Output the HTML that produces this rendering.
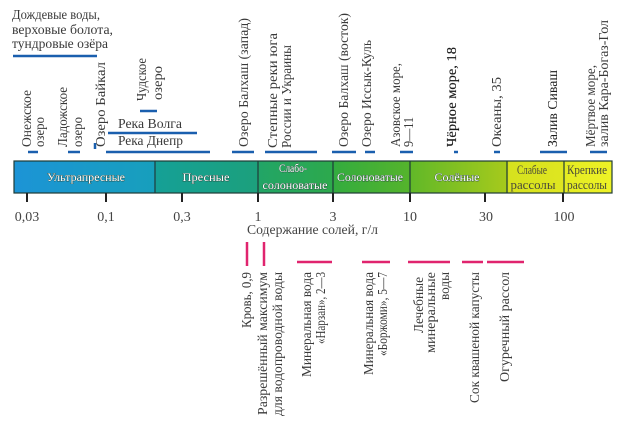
<!DOCTYPE html>
<html><head><meta charset="utf-8"><style>
html,body{margin:0;padding:0;background:#fff;}
svg{display:block;}
text{font-family:"Liberation Serif","DejaVu Serif",serif;}
</style></head><body>
<svg width="624" height="424" viewBox="0 0 624 424" xmlns="http://www.w3.org/2000/svg">
<defs>
<linearGradient id="bar" x1="14" y1="0" x2="612" y2="0" gradientUnits="userSpaceOnUse">
<stop offset="0" stop-color="#1c94d6"/>
<stop offset="0.236" stop-color="#179fbc"/>
<stop offset="0.238" stop-color="#15a096"/>
<stop offset="0.408" stop-color="#1ca07c"/>
<stop offset="0.411" stop-color="#22a566"/>
<stop offset="0.534" stop-color="#2da94c"/>
<stop offset="0.537" stop-color="#34ac3e"/>
<stop offset="0.662" stop-color="#55b42c"/>
<stop offset="0.665" stop-color="#62b828"/>
<stop offset="0.824" stop-color="#a6ca1c"/>
<stop offset="0.827" stop-color="#d6e21e"/>
<stop offset="0.918" stop-color="#dfe620"/>
<stop offset="0.921" stop-color="#e4ec22"/>
<stop offset="1" stop-color="#eef226"/>
</linearGradient>
</defs>

<!-- top-left horizontal text -->
<g fill="#3a3a3a" font-size="14">
<text x="12" y="19" textLength="88" lengthAdjust="spacingAndGlyphs">Дождевые воды,</text>
<text x="12" y="34" textLength="101" lengthAdjust="spacingAndGlyphs">верховые болота,</text>
<text x="12" y="48" textLength="96" lengthAdjust="spacingAndGlyphs">тундровые озёра</text>
<text x="118" y="128" textLength="64" lengthAdjust="spacingAndGlyphs">Река Волга</text>
<text x="118" y="145" textLength="65" lengthAdjust="spacingAndGlyphs">Река Днепр</text>
</g>

<!-- top vertical labels -->
<g fill="#3a3a3a" font-size="14">
<text transform="translate(31,147) rotate(-90)" textLength="57" lengthAdjust="spacingAndGlyphs">Онежское</text>
<text transform="translate(44,147) rotate(-90)" textLength="30" lengthAdjust="spacingAndGlyphs">озеро</text>
<text transform="translate(67,147) rotate(-90)" textLength="60" lengthAdjust="spacingAndGlyphs">Ладожское</text>
<text transform="translate(82,147) rotate(-90)" textLength="30" lengthAdjust="spacingAndGlyphs">озеро</text>
<text transform="translate(105,147) rotate(-90)" textLength="85" lengthAdjust="spacingAndGlyphs">Озеро Байкал</text>
<text transform="translate(146,101) rotate(-90)" textLength="43" lengthAdjust="spacingAndGlyphs">Чудское</text>
<text transform="translate(162,100) rotate(-90)" textLength="34" lengthAdjust="spacingAndGlyphs">озеро</text>
<text transform="translate(248,147) rotate(-90)" textLength="129" lengthAdjust="spacingAndGlyphs">Озеро Балхаш (запад)</text>
<text transform="translate(277,148) rotate(-90)" textLength="115" lengthAdjust="spacingAndGlyphs">Степные реки юга</text>
<text transform="translate(291,148) rotate(-90)" textLength="103" lengthAdjust="spacingAndGlyphs">России и Украины</text>
<text transform="translate(348,147) rotate(-90)" textLength="134" lengthAdjust="spacingAndGlyphs">Озеро Балхаш (восток)</text>
<text transform="translate(371,147) rotate(-90)" textLength="107" lengthAdjust="spacingAndGlyphs">Озеро Иссык-Куль</text>
<text transform="translate(400,147) rotate(-90)" textLength="84" lengthAdjust="spacingAndGlyphs">Азовское море,</text>
<text transform="translate(413,147) rotate(-90)" textLength="30" lengthAdjust="spacingAndGlyphs">9—11</text>
<text transform="translate(456,147) rotate(-90)" textLength="100" lengthAdjust="spacingAndGlyphs" fill="#1a1a1a" stroke="#1a1a1a" stroke-width="0.15">Чёрное море, 18</text>
<text transform="translate(501,147) rotate(-90)" textLength="70" lengthAdjust="spacingAndGlyphs">Океаны, 35</text>
<text transform="translate(557,147) rotate(-90)" textLength="77" lengthAdjust="spacingAndGlyphs" fill="#1a1a1a">Залив Сиваш</text>
<text transform="translate(595,147) rotate(-90)" textLength="82" lengthAdjust="spacingAndGlyphs">Мёртвое море,</text>
<text transform="translate(608,147) rotate(-90)" textLength="127" lengthAdjust="spacingAndGlyphs">залив Кара-Богаз-Гол</text>
</g>

<!-- blue dashes -->
<g stroke="#1a5fae" stroke-width="2.5" fill="none">
<line x1="13" y1="56" x2="97" y2="56"/>
<line x1="28" y1="152" x2="38" y2="152"/>
<line x1="68" y1="152" x2="80" y2="152"/>
<line x1="95" y1="143" x2="95" y2="149"/>
<line x1="140" y1="111" x2="157" y2="111"/>
<line x1="108" y1="133" x2="197" y2="133"/>
<line x1="106" y1="152" x2="210" y2="152"/>
<line x1="232" y1="152" x2="254" y2="152"/>
<line x1="265" y1="152" x2="317" y2="152"/>
<line x1="332" y1="152" x2="356" y2="152"/>
<line x1="365" y1="152" x2="375" y2="152"/>
<line x1="400" y1="152" x2="413" y2="152"/>
<line x1="454" y1="152" x2="458" y2="152"/>
<line x1="494" y1="152" x2="500" y2="152"/>
<line x1="540" y1="152" x2="567" y2="152"/>
<line x1="590" y1="152" x2="607" y2="152"/>
</g>

<!-- bar -->
<rect x="14" y="161" width="598" height="32" fill="url(#bar)" stroke="#1f3b36" stroke-width="1.2"/>
<g stroke="#1f3b36" stroke-width="1.2">
<line x1="155" y1="161" x2="155" y2="193"/>
<line x1="258" y1="161" x2="258" y2="193"/>
<line x1="333" y1="161" x2="333" y2="193"/>
<line x1="410" y1="161" x2="410" y2="193"/>
<line x1="507" y1="161" x2="507" y2="193"/>
<line x1="564" y1="161" x2="564" y2="193"/>
</g>

<!-- section labels -->
<g font-size="12" fill="#ffffff" stroke="#2b4a40" stroke-width="0.7" paint-order="stroke" text-anchor="middle">
<text x="86" y="181" textLength="78" lengthAdjust="spacingAndGlyphs">Ультрапресные</text>
<text x="206" y="181" textLength="47" lengthAdjust="spacingAndGlyphs">Пресные</text>
<text x="293" y="172" textLength="28" lengthAdjust="spacingAndGlyphs">Слабо-</text>
<text x="295" y="189" textLength="65" lengthAdjust="spacingAndGlyphs">солоноватые</text>
<text x="370" y="181" textLength="66" lengthAdjust="spacingAndGlyphs">Солоноватые</text>
<text x="457" y="181" textLength="45" lengthAdjust="spacingAndGlyphs">Солёные</text>
</g>
<g font-size="13" fill="#4a4a3a" text-anchor="middle">
<text x="532" y="174" textLength="30" lengthAdjust="spacingAndGlyphs">Слабые</text>
<text x="533" y="189" textLength="45" lengthAdjust="spacingAndGlyphs">рассолы</text>
<text x="587" y="174" textLength="40" lengthAdjust="spacingAndGlyphs">Крепкие</text>
<text x="587" y="189" textLength="40" lengthAdjust="spacingAndGlyphs">рассолы</text>
</g>

<!-- ticks -->
<g stroke="#222" stroke-width="2">
<line x1="27" y1="193" x2="27" y2="202"/>
<line x1="106" y1="193" x2="106" y2="202"/>
<line x1="182" y1="193" x2="182" y2="202"/>
<line x1="258" y1="193" x2="258" y2="202"/>
<line x1="333" y1="193" x2="333" y2="202"/>
<line x1="410" y1="193" x2="410" y2="202"/>
<line x1="485" y1="193" x2="485" y2="202"/>
<line x1="563" y1="193" x2="563" y2="202"/>
</g>
<g font-size="14" fill="#444" text-anchor="middle">
<text x="27" y="221">0,03</text>
<text x="106" y="221">0,1</text>
<text x="182" y="221">0,3</text>
<text x="258" y="221">1</text>
<text x="333" y="221">3</text>
<text x="410" y="221">10</text>
<text x="486" y="221">30</text>
<text x="564" y="221">100</text>
<text x="312.5" y="234" textLength="131" lengthAdjust="spacingAndGlyphs">Содержание солей, г/л</text>
</g>

<!-- pink markers -->
<g stroke="#e0246e" stroke-width="2.5" fill="none">
<line x1="247" y1="242" x2="247" y2="266"/>
<line x1="264" y1="242" x2="264" y2="266"/>
<line x1="297" y1="262" x2="332" y2="262"/>
<line x1="362" y1="262" x2="390" y2="262"/>
<line x1="408" y1="262" x2="450" y2="262"/>
<line x1="462" y1="262" x2="483" y2="262"/>
<line x1="487" y1="262" x2="524" y2="262"/>
</g>

<!-- bottom vertical labels -->
<g fill="#3a3a3a" font-size="14" text-anchor="end">
<text transform="translate(251,272) rotate(-90)" textLength="56" lengthAdjust="spacingAndGlyphs">Кровь, 0,9</text>
<text transform="translate(267,272) rotate(-90)" textLength="143" lengthAdjust="spacingAndGlyphs">Разрешённый максимум</text>
<text transform="translate(282,272) rotate(-90)" textLength="144" lengthAdjust="spacingAndGlyphs">для водопроводной воды</text>
<text transform="translate(311,272) rotate(-90)" textLength="105" lengthAdjust="spacingAndGlyphs">Минеральная вода</text>
<text transform="translate(325,272) rotate(-90)" textLength="72" lengthAdjust="spacingAndGlyphs">«Нарзан», 2—3</text>
<text transform="translate(373,272) rotate(-90)" textLength="103" lengthAdjust="spacingAndGlyphs">Минеральная вода</text>
<text transform="translate(387,272) rotate(-90)" textLength="84" lengthAdjust="spacingAndGlyphs">«Боржоми», 5—7</text>
<text transform="translate(423,277) rotate(-90)" textLength="56" lengthAdjust="spacingAndGlyphs">Лечебные</text>
<text transform="translate(435,272) rotate(-90)" textLength="81" lengthAdjust="spacingAndGlyphs">минеральные</text>
<text transform="translate(449,272) rotate(-90)" textLength="28" lengthAdjust="spacingAndGlyphs">воды</text>
<text transform="translate(479,272) rotate(-90)" textLength="131" lengthAdjust="spacingAndGlyphs">Сок квашеной капусты</text>
<text transform="translate(509,272) rotate(-90)" textLength="110" lengthAdjust="spacingAndGlyphs">Огуречный рассол</text>
</g>
</svg>
</body></html>
